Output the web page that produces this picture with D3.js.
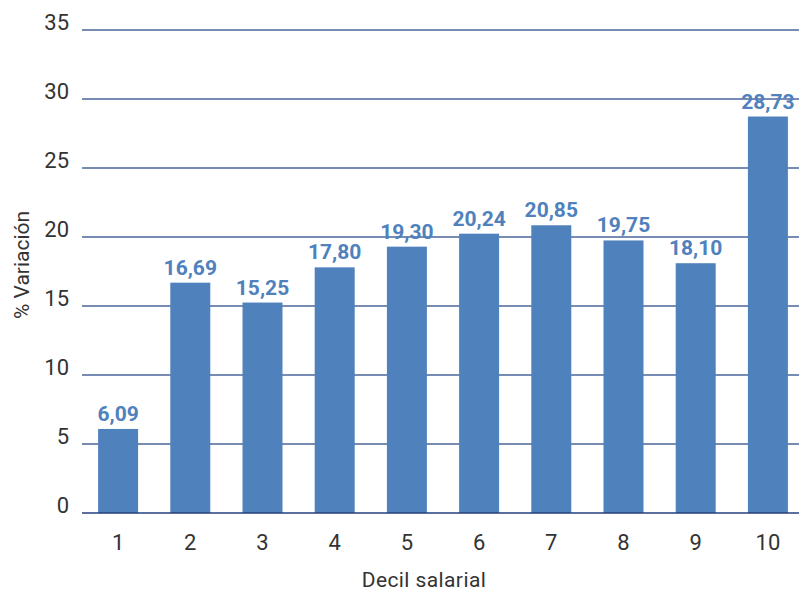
<!DOCTYPE html>
<html>
<head>
<meta charset="utf-8">
<script src="https://cdn.jsdelivr.net/npm/d3@7"></script>
<style>
  html, body { margin: 0; padding: 0; background: #fff; }
  svg { display: block; }
</style>
</head>
<body>
<svg id="chart" width="799" height="592"></svg>
<script>
const categories = ["1","2","3","4","5","6","7","8","9","10"];
const values = [6.09, 16.69, 15.25, 17.80, 19.30, 20.24, 20.85, 19.75, 18.10, 28.73];
const yTicks = [0, 5, 10, 15, 20, 25, 30, 35];
const yTitle = "% Variación";
const xTitle = "Decil salarial";

(function () {
const svg = d3.select("#chart");
const W = 799;
const plotLeft = 82, plotRight = 804, plotTop = 30, plotBottom = 513;

const x = d3.scaleBand().domain(categories).range([plotLeft, plotRight]).paddingInner(0.446).paddingOuter(0.223);
const y = d3.scaleLinear().domain([0, 35]).range([plotBottom, plotTop]);

const fmt = v => v.toFixed(2).replace(".", ",");
const FONT = "Roboto, 'Liberation Sans', sans-serif";

// gridlines
svg.append("g").selectAll("line").data(yTicks.filter(d => d > 0)).join("line")
  .attr("x1", plotLeft).attr("x2", W)
  .attr("y1", d => y(d)).attr("y2", d => y(d))
  .attr("stroke", "#4a659a").attr("stroke-width", 1.3);

// y tick labels
svg.append("g").selectAll("text").data(yTicks).join("text")
  .attr("x", 69).attr("y", d => y(d)).attr("dy", "0.02em")
  .attr("text-anchor", "end")
  .attr("font-family", FONT)
  .attr("font-weight", 400)
  .attr("font-size", 22).attr("fill", "#333")
  .text(d => d);

// bars
svg.append("g").selectAll("rect").data(values).join("rect")
  .attr("x", (d, i) => x(categories[i]))
  .attr("width", x.bandwidth())
  .attr("y", d => y(d))
  .attr("height", d => y(0) - y(d))
  .attr("fill", "#4f81bd");

// baseline
svg.append("line")
  .attr("x1", plotLeft).attr("x2", W)
  .attr("y1", y(0)).attr("y2", y(0))
  .attr("stroke", "#233f7c").attr("stroke-width", 1.6);

// value labels
svg.append("g").selectAll("text").data(values).join("text")
  .attr("x", (d, i) => x(categories[i]) + x.bandwidth() / 2)
  .attr("y", d => y(d) - 8)
  .attr("text-anchor", "middle")
  .attr("font-family", FONT)
  .attr("font-weight", 700)
  .attr("font-size", 21).attr("fill", "#4f81bd")
  .text(d => fmt(d));

// x tick labels
svg.append("g").selectAll("text").data(categories).join("text")
  .attr("x", d => x(d) + x.bandwidth() / 2)
  .attr("y", 550)
  .attr("text-anchor", "middle")
  .attr("font-family", FONT)
  .attr("font-weight", 400)
  .attr("font-size", 22).attr("fill", "#333")
  .text(d => d);

// axis titles
svg.append("text")
  .attr("transform", "translate(29,265) rotate(-90)")
  .attr("text-anchor", "middle")
  .attr("font-family", FONT)
  .attr("font-weight", 400)
  .attr("font-size", 21).attr("fill", "#333")
  .text(yTitle);

svg.append("text")
  .attr("x", 424).attr("y", 587)
  .attr("text-anchor", "middle")
  .attr("font-family", FONT)
  .attr("font-weight", 400)
  .attr("font-size", 21).attr("fill", "#333")
  .attr("letter-spacing", 0.4)
  .text(xTitle);
})();
</script>
</body>
</html>
